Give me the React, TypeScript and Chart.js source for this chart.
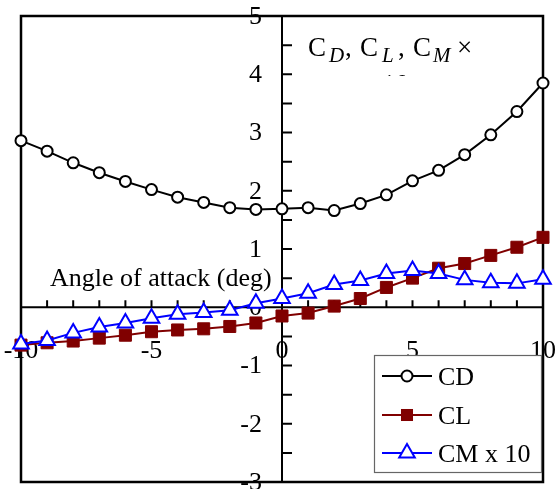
import React, { useEffect, useRef } from "react";
import { Chart, registerables } from "chart.js";

Chart.register(...registerables);

const angles = [-10, -9, -8, -7, -6, -5, -4, -3, -2, -1, 0, 1, 2, 3, 4, 5, 6, 7, 8, 9, 10];
const cdValues = [2.86, 2.68, 2.48, 2.31, 2.16, 2.02, 1.89, 1.8, 1.71, 1.68, 1.69, 1.71, 1.66, 1.78, 1.93, 2.17, 2.35, 2.62, 2.96, 3.36, 3.85];
const clValues = [-0.65, -0.61, -0.58, -0.53, -0.48, -0.42, -0.39, -0.37, -0.33, -0.27, -0.15, -0.1, 0.02, 0.15, 0.34, 0.5, 0.67, 0.75, 0.89, 1.03, 1.2];
const cmValues = [-0.63, -0.57, -0.44, -0.34, -0.27, -0.19, -0.12, -0.09, -0.05, 0.07, 0.15, 0.24, 0.39, 0.46, 0.58, 0.63, 0.58, 0.47, 0.42, 0.41, 0.48];

const seriesNames = ["CD", "CL", "CM x 10"];
const xTitle = "Angle of attack (deg)";
const xMin = -10;
const xMax = 10;
const xStep = 5;
const yMin = -3;
const yMax = 5;
const yStep = 1;

const SERIF = '"Liberation Serif", "Times New Roman", serif';

function drawMarker(ctx: CanvasRenderingContext2D, style: string, x: number, y: number, r: number, color: string) {
  ctx.save();
  ctx.lineWidth = 2;
  ctx.strokeStyle = color;
  if (style === "circle") {
    ctx.fillStyle = "#fff";
    ctx.beginPath();
    ctx.arc(x, y, r, 0, Math.PI * 2);
    ctx.fill();
    ctx.stroke();
  } else if (style === "rect") {
    const s = Math.SQRT1_2 * r;
    ctx.fillStyle = color;
    ctx.fillRect(x - s, y - s, 2 * s, 2 * s);
  } else if (style === "triangle") {
    ctx.fillStyle = "#fff";
    ctx.beginPath();
    let a = 0;
    ctx.moveTo(x + Math.sin(a) * r, y - Math.cos(a) * r);
    a += (2 * Math.PI) / 3;
    ctx.lineTo(x + Math.sin(a) * r, y - Math.cos(a) * r);
    a += (2 * Math.PI) / 3;
    ctx.lineTo(x + Math.sin(a) * r, y - Math.cos(a) * r);
    ctx.closePath();
    ctx.fill();
    ctx.stroke();
  }
  ctx.restore();
}

const zeroPadding = (s: any) => {
  s.paddingLeft = 0;
  s.paddingRight = 0;
  s.paddingTop = 0;
  s.paddingBottom = 0;
};

const decorPlugin = {
  id: "decor",
  beforeDatasetsDraw(chart: any) {
    const { ctx, chartArea: a, scales } = chart;
    const x = scales.x;
    const y = scales.y;
    const x0 = x.getPixelForValue(0);
    const y0 = y.getPixelForValue(0);
    ctx.save();
    // y tick labels, from the y scale's ticks
    ctx.fillStyle = "#000";
    ctx.font = `26px ${SERIF}`;
    ctx.textAlign = "right";
    ctx.textBaseline = "middle";
    for (const t of y.ticks) {
      ctx.fillText(String(t.value), x0 - 20, y.getPixelForValue(t.value) + 1);
    }
    ctx.strokeStyle = "#000";
    ctx.lineWidth = 2;
    ctx.beginPath();
    ctx.moveTo(a.left, y0);
    ctx.lineTo(a.right, y0);
    ctx.moveTo(x0, a.top);
    ctx.lineTo(x0, a.bottom);
    for (let v = x.min; v <= x.max; v += 1) {
      const px = x.getPixelForValue(v);
      ctx.moveTo(px, y0);
      ctx.lineTo(px, y0 - 7);
    }
    for (let v = y.min; v <= y.max; v += 0.5) {
      const py = y.getPixelForValue(v);
      ctx.moveTo(x0, py);
      ctx.lineTo(x0 + 10, py);
    }
    ctx.stroke();
    ctx.lineWidth = 2.5;
    ctx.strokeRect(a.left, a.top, a.right - a.left, a.bottom - a.top);
    ctx.restore();
  },
  afterDraw(chart: any) {
    const { ctx } = chart;
    ctx.save();
    ctx.fillStyle = "#000";
    ctx.textBaseline = "alphabetic";
    ctx.textAlign = "left";

    // x-axis title
    ctx.font = `26px ${SERIF}`;
    ctx.fillText(xTitle, 50, 286);

    // y-axis title: C_D, C_L, C_M × 10
    const big = `27px ${SERIF}`;
    const sub = `italic 21px ${SERIF}`;
    const parts = [
      { t: "C", f: big, dx: 308, dy: 0 },
      { t: "D", f: sub, dx: 329, dy: 6 },
      { t: ",", f: big, dx: 345, dy: 0 },
      { t: "C", f: big, dx: 360, dy: 0 },
      { t: "L", f: sub, dx: 382, dy: 6 },
      { t: ",", f: big, dx: 398, dy: 0 },
      { t: "C", f: big, dx: 413, dy: 0 },
      { t: "M", f: sub, dx: 433, dy: 6 },
      { t: "×", f: big, dx: 457, dy: 0 },
    ];
    const base = 56;
    for (const p of parts) {
      ctx.font = p.f;
      ctx.fillText(p.t, p.dx, base + p.dy);
    }
    ctx.save();
    ctx.beginPath();
    ctx.rect(0, 0, 555, 76);
    ctx.clip();
    ctx.font = big;
    ctx.fillText("10", 382, 93);
    ctx.restore();

    // legend
    const lx = 374.5;
    const ly = 355.5;
    ctx.fillStyle = "#fff";
    ctx.fillRect(lx, ly, 167, 117);
    ctx.strokeStyle = "#666";
    ctx.lineWidth = 1.2;
    ctx.strokeRect(lx, ly, 167, 117);
    const rows = [376, 415, 453];
    chart.data.datasets.forEach((ds: any, i: number) => {
      const ry = rows[i];
      ctx.strokeStyle = ds.borderColor;
      ctx.lineWidth = 2;
      ctx.beginPath();
      ctx.moveTo(382, ry);
      ctx.lineTo(432, ry);
      ctx.stroke();
      drawMarker(ctx, ds.pointStyle, 407, ry, ds.pointRadius, ds.borderColor);
      ctx.fillStyle = "#000";
      ctx.font = `26px ${SERIF}`;
      ctx.fillText(ds.label, 438, ry + 9);
    });
    ctx.restore();
  },
};

export default function App() {
  const ref = useRef<HTMLCanvasElement | null>(null);
  useEffect(() => {
    if (!ref.current) return;
    const mk = (vals: number[]) => angles.map((a, i) => ({ x: a, y: vals[i] }));
    const chart = new Chart(ref.current, {
      type: "line",
      data: {
        datasets: [
          {
            label: seriesNames[0],
            data: mk(cdValues),
            borderColor: "#000000",
            backgroundColor: "#ffffff",
            borderWidth: 2,
            pointStyle: "circle",
            pointRadius: 5.5,
            pointBorderWidth: 2,
            pointBackgroundColor: "#ffffff",
            tension: 0,
            clip: false as any,
            order: 3,
          },
          {
            label: seriesNames[1],
            data: mk(clValues),
            borderColor: "#800000",
            backgroundColor: "#800000",
            borderWidth: 2,
            pointStyle: "rect",
            pointRadius: 8.5,
            pointBorderWidth: 1,
            pointBackgroundColor: "#800000",
            tension: 0,
            clip: false as any,
            order: 2,
          },
          {
            label: seriesNames[2],
            data: mk(cmValues),
            borderColor: "#0000ff",
            backgroundColor: "#ffffff",
            borderWidth: 2,
            pointStyle: "triangle",
            pointRadius: 9,
            pointBorderWidth: 2,
            pointBackgroundColor: "#ffffff",
            tension: 0,
            clip: false as any,
            order: 1,
          },
        ],
      },
      options: {
        responsive: false,
        animation: false,
        devicePixelRatio: 1,
        layout: { autoPadding: false, padding: { left: 21, right: 12, top: 16, bottom: 7 } },
        plugins: { legend: { display: false }, tooltip: { enabled: false } },
        scales: {
          x: {
            type: "linear",
            min: xMin,
            max: xMax,
            position: { y: 0 } as any,
            grid: { display: false, drawTicks: false },
            border: { display: false },
            afterFit: zeroPadding,
            ticks: {
              stepSize: xStep,
              padding: 28,
              maxRotation: 0,
              color: "#000",
              font: { family: SERIF, size: 26 },
            },
          },
          y: {
            type: "linear",
            min: yMin,
            max: yMax,
            position: { x: 0 } as any,
            grid: { display: false, drawTicks: false },
            border: { display: false },
            afterFit: zeroPadding,
            ticks: {
              display: false,
              stepSize: yStep,
              color: "#000",
              font: { family: SERIF, size: 26 },
            },
          },
        },
      },
      plugins: [decorPlugin],
    });
    return () => chart.destroy();
  }, []);
  return (
    <div style={{ position: "fixed", left: 0, top: 0, width: 555, height: 489, background: "#fff" }}>
      <canvas ref={ref} width={555} height={489} style={{ display: "block" }} />
    </div>
  );
}
